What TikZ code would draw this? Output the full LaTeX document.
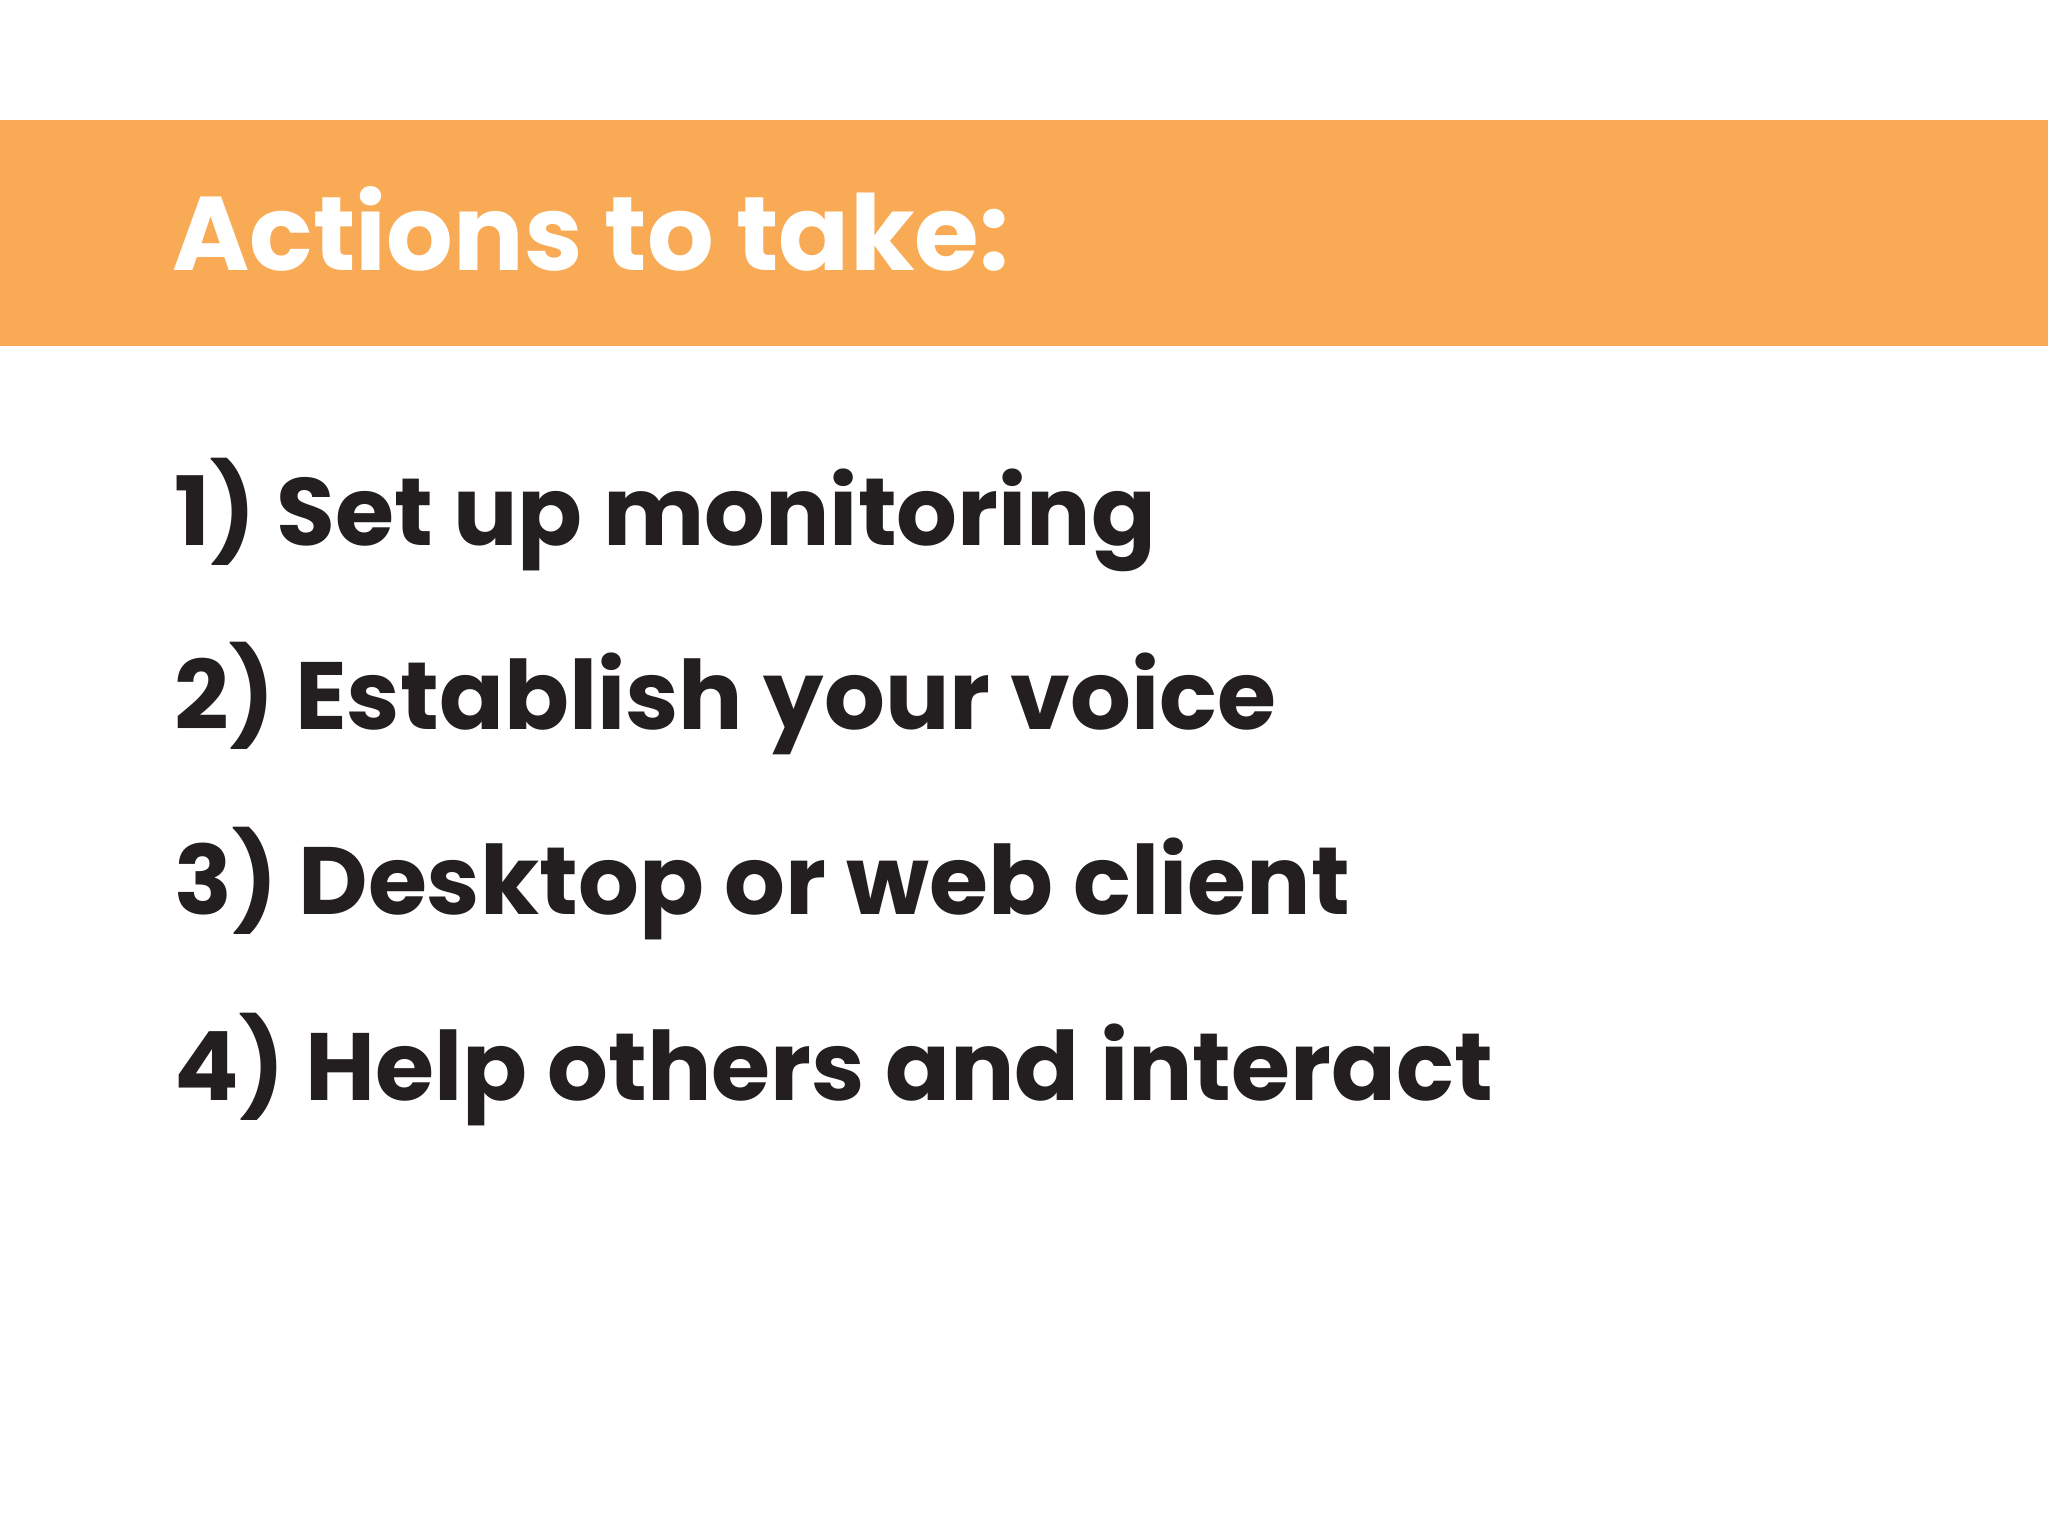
\documentclass[tikz,border=0pt]{standalone}
\usepackage{fontspec}
\setmainfont{Poppins}
\definecolor{band}{HTML}{F9AA55}
\definecolor{ink}{HTML}{231F20}
\begin{document}
\begin{tikzpicture}[x=0.01cm,y=-0.01cm,
  item/.style={anchor=base west,inner sep=0pt,text=ink,font=\fontsize{27.2}{32}\selectfont\bfseries}]
\useasboundingbox (0,0) rectangle (2048,1536);
\fill[white] (0,0) rectangle (2048,1536);
\fill[band] (0,120) rectangle (2048,346);
\node[anchor=base west,inner sep=0pt,text=white,font=\fontsize{29.8}{34}\selectfont\bfseries] (title) at (172,270) {Actions to take:};
\node[item] (i1) at (174,545) {1) Set up monitoring};
\node[item] (i2) at (174,729) {2) Establish your voice};
\node[item] (i3) at (174,914) {3) Desktop or web client};
\node[item] (i4) at (174,1100) {4) Help others and interact};
\end{tikzpicture}
\end{document}
